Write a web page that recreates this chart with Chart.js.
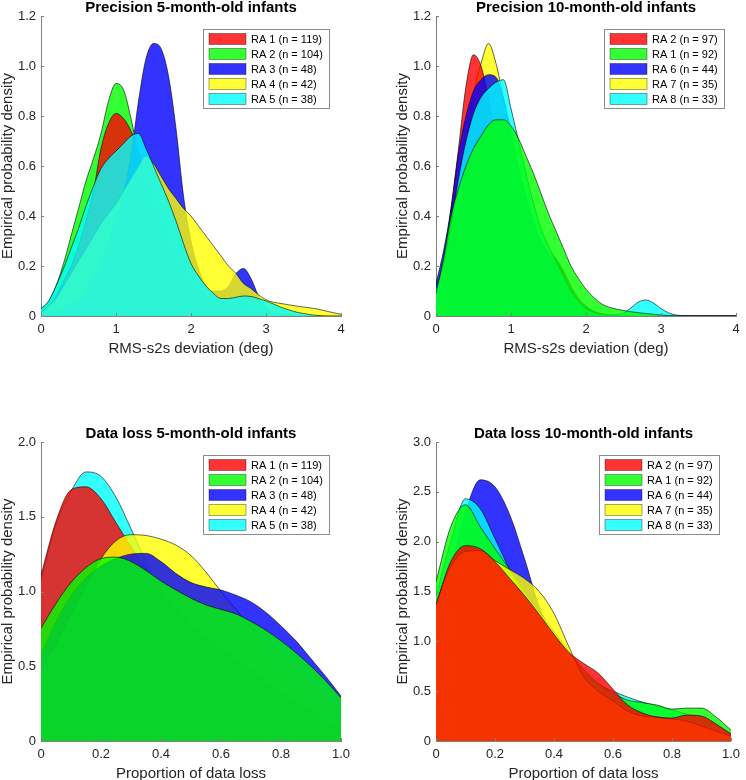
<!DOCTYPE html>
<html>
<head>
<meta charset="utf-8">
<title>Precision and data loss per RA</title>
<script src="https://cdn.jsdelivr.net/npm/chart.js@4.4.1/dist/chart.umd.min.js"></script>
<style>
  html, body { margin: 0; padding: 0; background: #fff; overflow: hidden; }
  canvas { position: absolute; }
</style>
</head>
<body>
<canvas id="prec5" width="373" height="390" style="left:0;top:0"></canvas>
<canvas id="prec10" width="373" height="390" style="left:373px;top:0"></canvas>
<canvas id="loss5" width="373" height="391" style="left:0;top:390px"></canvas>
<canvas id="loss10" width="373" height="391" style="left:373px;top:390px"></canvas>
<script>
// x grids
const precX = [0, 0.1, 0.2, 0.3, 0.4, 0.5, 0.6, 0.7, 0.8, 0.9, 1, 1.1, 1.2, 1.3, 1.4, 1.5, 1.6, 1.7, 1.8, 1.9,
  2, 2.1, 2.2, 2.3, 2.4, 2.5, 2.6, 2.7, 2.8, 2.9, 3, 3.1, 3.2, 3.3, 3.4, 3.5, 3.6, 3.7, 3.8, 3.9, 4];
const lossX = [0, 0.05, 0.1, 0.15, 0.2, 0.25, 0.3, 0.35, 0.4, 0.45, 0.5, 0.55, 0.6, 0.65, 0.7, 0.75, 0.8, 0.85, 0.9, 0.95, 1];

// legend labels
const labels5 = ['RA 1 (n = 119)', 'RA 2 (n = 104)', 'RA 3 (n = 48)', 'RA 4 (n = 42)', 'RA 5 (n = 38)'];
const labels10 = ['RA 2 (n = 97)', 'RA 1 (n = 92)', 'RA 6 (n = 44)', 'RA 7 (n = 35)', 'RA 8 (n = 33)'];

// precision, 5 months
const prec5RA1 = [0.02, 0.04, 0.08, 0.14, 0.2, 0.28, 0.38, 0.5, 0.67, 0.77, 0.81, 0.79, 0.74, 0.66, 0.57, 0.48, 0.4, 0.32, 0.25, 0.19,
  0.14, 0.11, 0.08, 0.065, 0.05, 0.042, 0.035, 0.03, 0.025, 0.02, 0.015, 0.011, 0.008, 0.005, 0.003, 0.002, 0.001, 0, 0, 0, 0];
const prec5RA2 = [0.027, 0.055, 0.12, 0.21, 0.32, 0.43, 0.54, 0.63, 0.73, 0.86, 0.93, 0.905, 0.79, 0.64, 0.52, 0.42, 0.34, 0.27, 0.21, 0.16,
  0.12, 0.09, 0.07, 0.058, 0.05, 0.045, 0.04, 0.035, 0.03, 0.025, 0.02, 0.015, 0.01, 0.007, 0.005, 0.003, 0.002, 0.001, 0, 0, 0];
const prec5RA3 = [0.01, 0.012, 0.02, 0.03, 0.05, 0.07, 0.1, 0.15, 0.21, 0.29, 0.38, 0.49, 0.64, 0.86, 1.03, 1.09, 1.07, 0.96, 0.75, 0.48,
  0.3, 0.19, 0.12, 0.1, 0.1, 0.12, 0.17, 0.19, 0.15, 0.08, 0.035, 0.012, 0.004, 0.001, 0, 0, 0, 0, 0, 0, 0];
const prec5RA4 = [0.013, 0.04, 0.07, 0.12, 0.17, 0.22, 0.27, 0.32, 0.37, 0.41, 0.45, 0.5, 0.55, 0.6, 0.64, 0.61, 0.56, 0.51, 0.47, 0.43,
  0.4, 0.36, 0.32, 0.28, 0.24, 0.2, 0.17, 0.13, 0.11, 0.085, 0.065, 0.055, 0.05, 0.045, 0.04, 0.036, 0.032, 0.027, 0.02, 0.013, 0.007];
const prec5RA5 = [0.03, 0.06, 0.12, 0.19, 0.27, 0.35, 0.44, 0.52, 0.59, 0.63, 0.66, 0.69, 0.72, 0.73, 0.67, 0.6, 0.53, 0.46, 0.38, 0.29,
  0.21, 0.16, 0.12, 0.09, 0.07, 0.07, 0.075, 0.08, 0.078, 0.07, 0.06, 0.048, 0.035, 0.025, 0.016, 0.01, 0.005, 0.002, 0, 0, 0];

// precision, 10 months
const prec10RA2 = [0.1, 0.22, 0.43, 0.67, 0.92, 1.045, 1.0, 0.87, 0.73, 0.62, 0.54, 0.47, 0.41, 0.35, 0.3, 0.26, 0.23, 0.18, 0.12, 0.07,
  0.04, 0.02, 0.01, 0.005, 0.002, 0, 0, 0, 0, 0, 0, 0, 0, 0, 0, 0, 0, 0, 0, 0, 0];
const prec10RA1 = [0.09, 0.23, 0.4, 0.51, 0.6, 0.67, 0.72, 0.765, 0.785, 0.785, 0.76, 0.71, 0.64, 0.57, 0.49, 0.41, 0.34, 0.27, 0.2, 0.15,
  0.107, 0.075, 0.05, 0.036, 0.028, 0.022, 0.017, 0.013, 0.01, 0.007, 0.004, 0.002, 0.001, 0, 0, 0, 0, 0, 0, 0, 0];
const prec10RA6 = [0.13, 0.26, 0.43, 0.65, 0.8, 0.9, 0.945, 0.965, 0.955, 0.87, 0.74, 0.6, 0.48, 0.38, 0.3, 0.25, 0.22, 0.16, 0.1, 0.055,
  0.03, 0.015, 0.007, 0.003, 0.001, 0, 0, 0, 0, 0, 0, 0, 0, 0, 0, 0, 0, 0, 0, 0, 0];
const prec10RA7 = [0.05, 0.12, 0.27, 0.48, 0.7, 0.89, 1.01, 1.09, 1.01, 0.87, 0.72, 0.58, 0.46, 0.36, 0.28, 0.21, 0.15, 0.1, 0.06, 0.035,
  0.02, 0.01, 0.005, 0.002, 0, 0, 0, 0, 0, 0, 0, 0, 0, 0, 0, 0, 0, 0, 0, 0, 0];
const prec10RA8 = [0.11, 0.21, 0.37, 0.55, 0.7, 0.81, 0.875, 0.91, 0.935, 0.945, 0.83, 0.7, 0.57, 0.45, 0.35, 0.28, 0.22, 0.16, 0.1, 0.06,
  0.03, 0.015, 0.008, 0.005, 0.005, 0.012, 0.033, 0.056, 0.064, 0.052, 0.03, 0.013, 0.004, 0.001, 0, 0, 0, 0, 0, 0, 0];

// data loss, 5 months
const loss5RA1 = [1.11, 1.47, 1.68, 1.70, 1.62, 1.46, 1.30, 1.15, 1.00, 0.88, 0.78, 0.70, 0.62, 0.55, 0.48, 0.40, 0.33, 0.26, 0.20, 0.14, 0.08];
const loss5RA2 = [0.755, 0.92, 1.06, 1.16, 1.22, 1.23, 1.2, 1.14, 1.07, 1.01, 0.955, 0.91, 0.88, 0.85, 0.8, 0.74, 0.67, 0.59, 0.5, 0.4, 0.29];
const loss5RA3 = [0.58, 0.8, 0.97, 1.09, 1.17, 1.22, 1.25, 1.255, 1.2, 1.12, 1.06, 1.03, 1.01, 0.975, 0.93, 0.86, 0.77, 0.67, 0.55, 0.43, 0.3];
const loss5RA4 = [0.47, 0.65, 0.85, 1.04, 1.22, 1.34, 1.38, 1.375, 1.35, 1.31, 1.24, 1.13, 1.0, 0.88, 0.76, 0.65, 0.55, 0.45, 0.35, 0.25, 0.15];
const loss5RA5 = [1.08, 1.45, 1.67, 1.80, 1.77, 1.63, 1.42, 1.2, 0.98, 0.8, 0.65, 0.53, 0.43, 0.35, 0.28, 0.22, 0.17, 0.13, 0.1, 0.08, 0.06];

// data loss, 10 months
const loss10RA2 = [1.37, 1.8, 1.96, 1.93, 1.8, 1.63, 1.46, 1.27, 1.07, 0.89, 0.78, 0.68, 0.52, 0.36, 0.28, 0.24, 0.23, 0.26, 0.25, 0.17, 0.07];
const loss10RA1 = [1.6, 2.15, 2.37, 2.15, 1.93, 1.72, 1.5, 1.3, 1.1, 0.9, 0.72, 0.58, 0.48, 0.41, 0.385, 0.36, 0.32, 0.33, 0.33, 0.24, 0.11];
const loss10RA6 = [1.3, 1.75, 2.3, 2.62, 2.55, 2.27, 1.83, 1.35, 1.05, 0.8, 0.6, 0.5, 0.45, 0.38, 0.3, 0.22, 0.17, 0.12, 0.08, 0.05, 0.03];
const loss10RA7 = [1.38, 1.75, 1.9, 1.91, 1.81, 1.72, 1.63, 1.5, 1.28, 0.95, 0.65, 0.5, 0.4, 0.3, 0.25, 0.24, 0.22, 0.2, 0.15, 0.1, 0.05];
const loss10RA8 = [1.45, 2.0, 2.43, 2.33, 2.03, 1.72, 1.45, 1.2, 1.0, 0.82, 0.68, 0.57, 0.5, 0.44, 0.39, 0.35, 0.31, 0.27, 0.22, 0.15, 0.08];

Chart.defaults.font.family = '"Liberation Sans", Arial, Helvetica, sans-serif';

// red, green, blue, yellow, cyan with 0.8 alpha, like the matlab patches
const faceColors = ['rgba(255,0,0,0.8)', 'rgba(0,255,0,0.8)', 'rgba(0,0,255,0.8)', 'rgba(255,255,0,0.8)', 'rgba(0,255,255,0.8)'];
const axisGrey = '#808080';
const textGrey = '#262626';

// small tick marks pointing into the plot
const inwardTicks = {
  id: 'inwardTicks',
  afterDatasetsDraw(chart) {
    const {ctx, chartArea, scales} = chart;
    ctx.save();
    ctx.strokeStyle = axisGrey;
    ctx.lineWidth = 1;
    ctx.beginPath();
    scales.x.ticks.forEach(t => {
      const px = Math.round(scales.x.getPixelForValue(t.value)) + 0.5;
      ctx.moveTo(px, chartArea.bottom);
      ctx.lineTo(px, chartArea.bottom - 3);
    });
    scales.y.ticks.forEach(t => {
      const py = Math.round(scales.y.getPixelForValue(t.value)) + 0.5;
      ctx.moveTo(chartArea.left, py);
      ctx.lineTo(chartArea.left + 3, py);
    });
    ctx.stroke();
    ctx.restore();
  }
};

// boxed legend in the upper right corner of the plot
const boxLegend = {
  id: 'boxLegend',
  afterDraw(chart) {
    const {ctx, chartArea} = chart;
    const sets = chart.data.datasets;
    ctx.save();
    ctx.font = '11px "Liberation Sans", Arial, sans-serif';
    let tw = 0;
    sets.forEach(d => { tw = Math.max(tw, ctx.measureText(d.label).width); });
    const w = Math.round(6 + 37 + 5 + tw + 6), h = sets.length * 15 + 4;
    const x = Math.round(chartArea.right - 12 - w), y = Math.round(chartArea.top + 13);
    ctx.fillStyle = '#fff';
    ctx.fillRect(x, y, w, h);
    ctx.strokeStyle = '#8c8c8c';
    ctx.lineWidth = 1;
    ctx.strokeRect(x + 0.5, y + 0.5, w, h);
    sets.forEach((d, i) => {
      const cy = y + 10 + i * 15;
      ctx.fillStyle = d.backgroundColor;
      ctx.fillRect(x + 6, cy - 5.5, 37, 11);
      ctx.strokeStyle = 'rgba(0,0,0,0.6)';
      ctx.lineWidth = 0.6;
      ctx.strokeRect(x + 6, cy - 5.5, 37, 11);
      ctx.fillStyle = '#000';
      ctx.textBaseline = 'middle';
      ctx.textAlign = 'left';
      ctx.fillText(d.label, x + 48, cy + 0.5);
    });
    ctx.restore();
  }
};

function fmt(digits) {
  return v => (v === 0 ? '0' : Number(v).toFixed(digits));
}

function makePanel(id, p) {
  return new Chart(document.getElementById(id), {
    type: 'line',
    data: {
      datasets: p.series.map((ys, i) => ({
        label: p.labels[i],
        data: p.x.map((x, j) => ({x: x, y: ys[j]})),
        backgroundColor: faceColors[i],
        borderColor: 'rgba(0,0,0,0.85)',
        borderWidth: 0.7,
        fill: 'origin',
        pointRadius: 0,
        cubicInterpolationMode: 'monotone',
        order: p.layers[i]
      }))
    },
    options: {
      responsive: false,
      animation: false,
      devicePixelRatio: 1,
      events: [],
      layout: {padding: p.pad},
      plugins: {
        legend: {display: false},
        tooltip: {enabled: false},
        title: {
          display: true,
          fullSize: false,
          text: p.title,
          color: '#000',
          font: {size: 15, weight: 'bold', lineHeight: 1},
          padding: {top: 0, bottom: 1}
        }
      },
      scales: {
        x: {
          type: 'linear',
          min: 0,
          max: p.xMax,
          z: 1,
          afterFit: s => { s.height = 40; },
          grid: {display: false, drawTicks: false},
          border: {display: true, color: axisGrey, width: 1},
          ticks: {stepSize: p.xStep, padding: 6, color: textGrey, font: {size: 13}, maxRotation: 0, callback: fmt(p.xDigits)},
          title: {display: true, text: p.xTitle, color: textGrey, font: {size: 15, lineHeight: 1}, padding: {top: 0, bottom: 0}}
        },
        y: {
          min: 0,
          max: p.yMax,
          z: 1,
          afterFit: s => { s.width = 41; },
          grid: {display: false, drawTicks: false},
          border: {display: true, color: axisGrey, width: 1},
          ticks: {stepSize: p.yStep, padding: 5, color: textGrey, font: {size: 13}, callback: fmt(1)},
          title: {display: true, text: 'Empirical probability density', color: textGrey, font: {size: 15, lineHeight: 1}, padding: {top: 0, bottom: 0}}
        }
      }
    },
    plugins: [inwardTicks, boxLegend]
  });
}

makePanel('prec5', {
  title: 'Precision 5-month-old infants', xTitle: 'RMS-s2s deviation (deg)',
  x: precX, labels: labels5, series: [prec5RA1, prec5RA2, prec5RA3, prec5RA4, prec5RA5],
  layers: [3, 4, 2, 1, 0],
  xMax: 4, xStep: 1, xDigits: 0, yMax: 1.2, yStep: 0.2,
  pad: {left: 0, right: 32, top: 0, bottom: 34}
});

makePanel('prec10', {
  title: 'Precision 10-month-old infants', xTitle: 'RMS-s2s deviation (deg)',
  x: precX, labels: labels10, series: [prec10RA2, prec10RA1, prec10RA6, prec10RA7, prec10RA8],
  layers: [3, 0, 2, 4, 1],
  xMax: 4, xStep: 1, xDigits: 0, yMax: 1.2, yStep: 0.2,
  pad: {left: 22, right: 10, top: 0, bottom: 34}
});

makePanel('loss5', {
  title: 'Data loss 5-month-old infants', xTitle: 'Proportion of data loss',
  x: lossX, labels: labels5, series: [loss5RA1, loss5RA2, loss5RA3, loss5RA4, loss5RA5],
  layers: [3, 0, 1, 2, 4],
  xMax: 1, xStep: 0.2, xDigits: 1, yMax: 2, yStep: 0.5,
  pad: {left: 0, right: 32, top: 36, bottom: 0}
});

makePanel('loss10', {
  title: 'Data loss 10-month-old infants', xTitle: 'Proportion of data loss',
  x: lossX, labels: labels10, series: [loss10RA2, loss10RA1, loss10RA6, loss10RA7, loss10RA8],
  layers: [0, 2, 4, 1, 3],
  xMax: 1, xStep: 0.2, xDigits: 1, yMax: 3, yStep: 0.5,
  pad: {left: 22, right: 10, top: 36, bottom: 0}
});
</script>
</body>
</html>
